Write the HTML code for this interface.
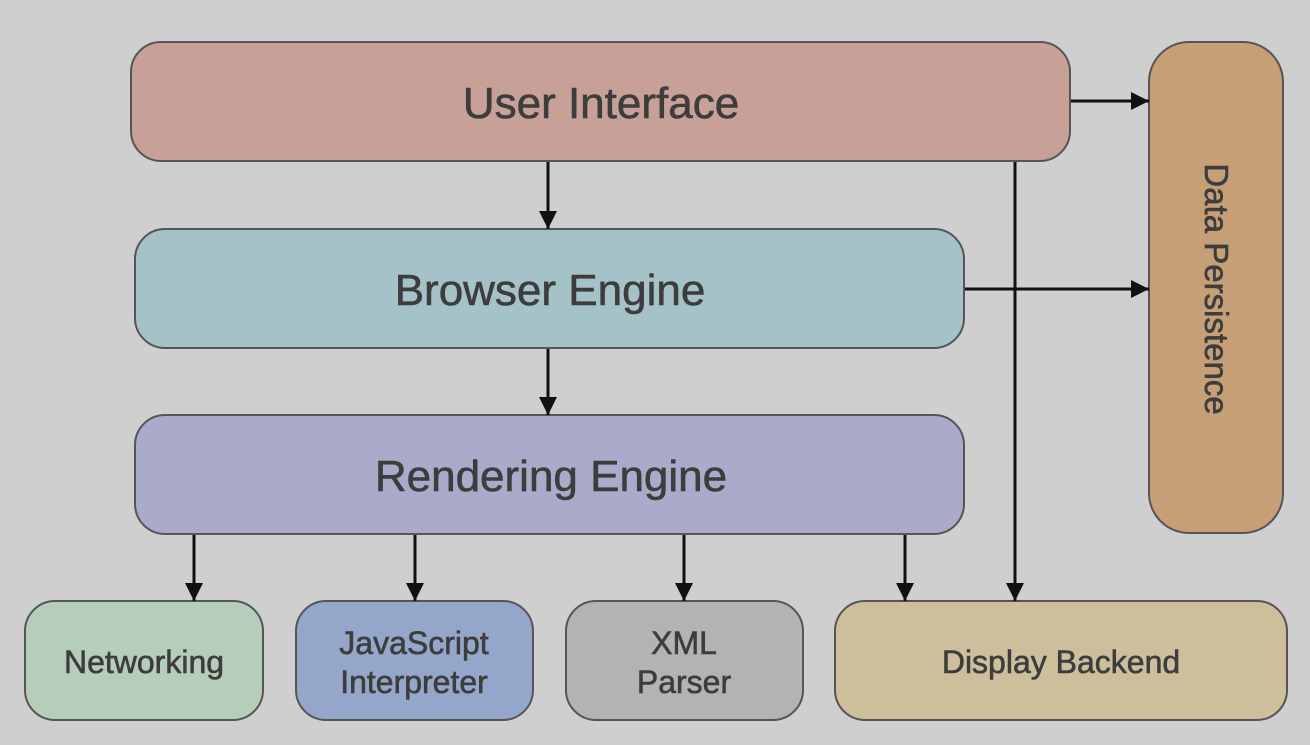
<!DOCTYPE html>
<html><head><style>html,body{margin:0;padding:0;background:#cfcfcf;}</style></head><body>
<svg width="1310" height="740" viewBox="0 0 1310 740" xmlns="http://www.w3.org/2000/svg" font-family="Liberation Sans, sans-serif">
<defs>
<marker id="b" viewBox="0 0 10 10" refX="10" refY="5" markerWidth="20" markerHeight="18" orient="auto" markerUnits="userSpaceOnUse"><path d="M0,0 L10,5 L0,10z" fill="#111"/></marker></defs>
<rect width="1310" height="740" fill="#cfcfcf"/>
<g stroke="#555" stroke-width="2">
<rect x="131" y="42" width="939" height="119" rx="30" fill="#c7a097"/>
<rect x="135" y="229" width="829" height="119" rx="30" fill="#a5c2c9"/>
<rect x="135" y="415" width="829" height="119" rx="30" fill="#aaaacb"/>
<rect x="1149" y="42" width="134" height="491" rx="40" fill="#c79f76"/>
<rect x="25" y="601" width="238" height="119" rx="30" fill="#b5cdb9"/>
<rect x="296" y="601" width="237" height="119" rx="30" fill="#94a7cb"/>
<rect x="566" y="601" width="237" height="119" rx="30" fill="#b3b3b3"/>
<rect x="835" y="601" width="452" height="119" rx="30" fill="#cdbf9b"/>
</g>
<g stroke="#111" stroke-width="3" fill="none" marker-end="url(#b)">
<line x1="548" y1="162" x2="548" y2="229"/>
<line x1="548" y1="349" x2="548" y2="415"/>
<line x1="1071" y1="101" x2="1149" y2="101"/>
<line x1="965" y1="289" x2="1149" y2="289"/>
<line x1="1015" y1="162" x2="1015" y2="601"/>
<line x1="194" y1="535" x2="194" y2="601"/>
<line x1="415" y1="535" x2="415" y2="601"/>
<line x1="684" y1="535" x2="684" y2="601"/>
<line x1="905" y1="535" x2="905" y2="601"/>
</g>
<g fill="#3d3d3d" text-anchor="middle" stroke="#3d3d3d" stroke-width="0.6">
<text x="601" y="118" font-size="44">User Interface</text>
<text x="550" y="305" font-size="44">Browser Engine</text>
<text x="551" y="491" font-size="44">Rendering Engine</text>
<text x="144" y="673" font-size="32">Networking</text>
<text x="414" y="654" font-size="32">JavaScript</text>
<text x="414" y="693" font-size="32">Interpreter</text>
<text x="684" y="654" font-size="32">XML</text>
<text x="684" y="693" font-size="32">Parser</text>
<text x="1061" y="673" font-size="32">Display Backend</text>
<text transform="translate(1205,289) rotate(90)" font-size="33">Data Persistence</text>
</g>
</svg>
</body></html>
